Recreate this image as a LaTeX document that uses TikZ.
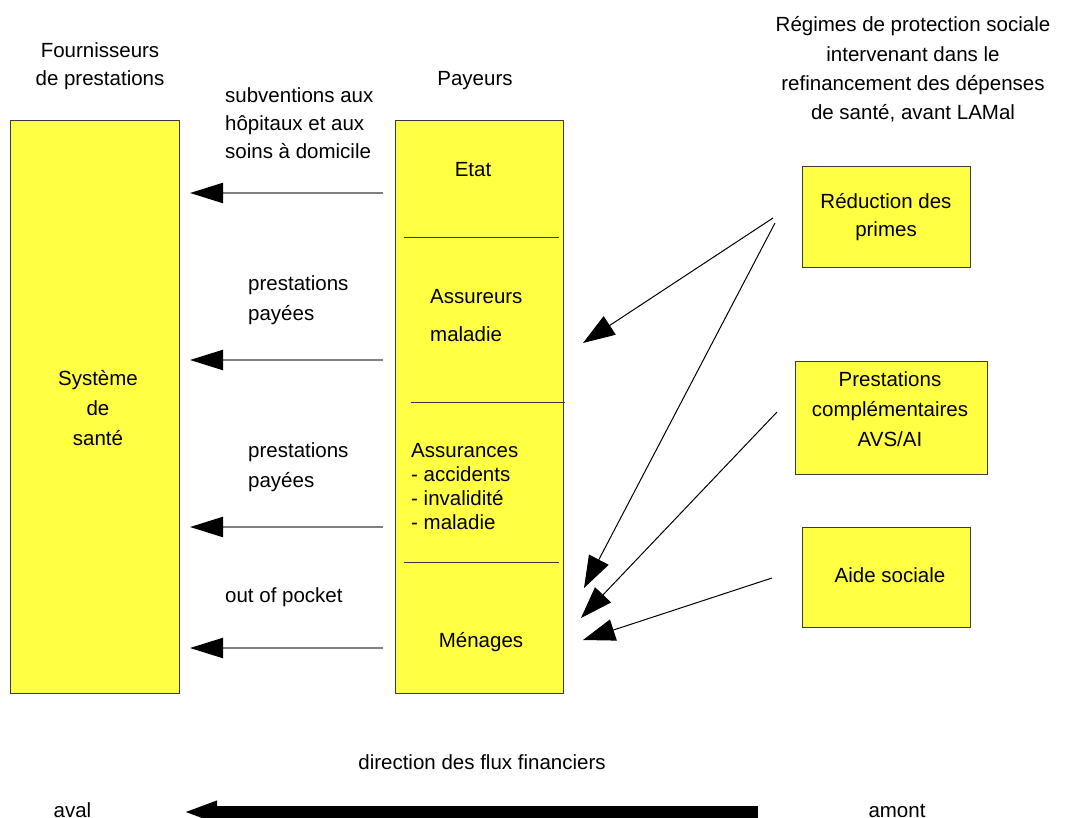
\documentclass[tikz,border=0pt]{standalone}
\usepackage{fontspec}
\setmainfont{Liberation Sans}
\usetikzlibrary{arrows.meta}
\definecolor{boxyellow}{HTML}{FFFF44}
\definecolor{boxborder}{HTML}{3A3A3A}
\definecolor{flowgray}{HTML}{808080}
\begin{document}
\begin{tikzpicture}[x=1pt,y=-1pt,
  every node/.style={font=\fontsize{20.5}{28}\selectfont, inner sep=0pt},
  ybox/.style={draw=boxborder, fill=boxyellow, line width=1pt, anchor=north west},
  lblleft/.style={anchor=west, align=left},
  lblcenter/.style={align=center},
  sep/.style={draw=boxborder, line width=1pt},
  harrow/.style={draw=flowgray, line width=2.2pt, -{Triangle[length=33pt,width=20pt,color=black,fill=black]}},
  darrow/.style={draw=black, line width=1pt, -{Triangle[length=32pt,width=22pt,color=black,fill=black]}},
  bigarrow/.style={draw=black, line width=12pt, -{Triangle[length=34pt,width=20pt]}}]
\useasboundingbox (0,0) rectangle (1065,818);

% boxes
\node[ybox, minimum width=169pt, minimum height=573pt] (sys) at (10,120) {};
\node[ybox, minimum width=168pt, minimum height=573pt] (pay) at (395,120) {};
\node[ybox, minimum width=168pt, minimum height=101pt] (red) at (802,166) {};
\node[ybox, minimum width=192pt, minimum height=113pt] (pc) at (795,361) {};
\node[ybox, minimum width=168pt, minimum height=100pt] (aide) at (802,527) {};

% separators in payer box
\draw[sep] (404,238) -- (559,238);
\draw[sep] (411,402) -- (565,402);
\draw[sep] (404,562) -- (559,562);

% headers
\node[lblcenter] (fourn) at (100,66) {Fournisseurs\\de prestations};
\node (payeurs) at (475,81) {Payeurs};
\node[lblcenter, font=\fontsize{20.5}{29.3}\selectfont] (regimes) at (913,69.5)
  {Régimes de protection sociale\\intervenant dans le\\refinancement des dépenses\\de santé, avant LAMal};

% box texts
\node[lblcenter, font=\fontsize{20.5}{30}\selectfont] (systxt) at (98,408) {Système\\de\\santé};
\node (etat) at (473,170) {Etat};
\node[lblleft, font=\fontsize{20.5}{38}\selectfont] (assur) at (430,316) {Assureurs\\maladie};
\node[lblleft, font=\fontsize{20.5}{23.7}\selectfont] (assurances) at (411,486.5)
  {Assurances\\- accidents\\- invalidité\\- maladie};
\node (menages) at (481,642) {Ménages};
\node[lblcenter] (redtxt) at (886,217) {Réduction des\\primes};
\node[lblcenter, font=\fontsize{20.5}{30}\selectfont] (pctxt) at (890,409) {Prestations\\complémentaires\\AVS/AI};
\node (aidetxt) at (890,575) {Aide sociale};

% flow labels
\node[lblleft] (subv) at (225,123) {subventions aux\\hôpitaux et aux\\soins à domicile};
\node[lblleft, font=\fontsize{20.5}{30}\selectfont] (prest1) at (248,300) {prestations\\payées};
\node[lblleft, font=\fontsize{20.5}{30}\selectfont] (prest2) at (248,467) {prestations\\payées};
\node[lblleft] (oop) at (225,597) {out of pocket};

% horizontal arrows
\coordinate (h1s) at (383,193); \coordinate (h1e) at (190,193);
\coordinate (h2s) at (383,360); \coordinate (h2e) at (190,360);
\coordinate (h3s) at (383,527); \coordinate (h3e) at (190,527);
\coordinate (h4s) at (383,648); \coordinate (h4e) at (190,648);
\draw[harrow] (h1s) -- (h1e);
\draw[harrow] (h2s) -- (h2e);
\draw[harrow] (h3s) -- (h3e);
\draw[harrow] (h4s) -- (h4e);

% diagonal arrows
\coordinate (d1s) at (773,218); \coordinate (d1e) at (583,343);
\coordinate (d2s) at (775,223); \coordinate (d2e) at (584,588);
\coordinate (d3s) at (777,412); \coordinate (d3e) at (581,618);
\coordinate (d4s) at (772,578); \coordinate (d4e) at (583,640);
\draw[darrow] (d1s) -- (d1e);
\draw[darrow] (d2s) -- (d2e);
\draw[darrow] (d3s) -- (d3e);
\draw[darrow] (d4s) -- (d4e);

% bottom
\node (dir) at (482,762) {direction des flux financiers};
\node[anchor=base] (aval) at (72.5,817) {aval};
\node[anchor=base] (amont) at (897,817) {amont};
\coordinate (bs) at (758,812); \coordinate (be) at (183,812);
\draw[bigarrow] (bs) -- (be);
\end{tikzpicture}
\end{document}
